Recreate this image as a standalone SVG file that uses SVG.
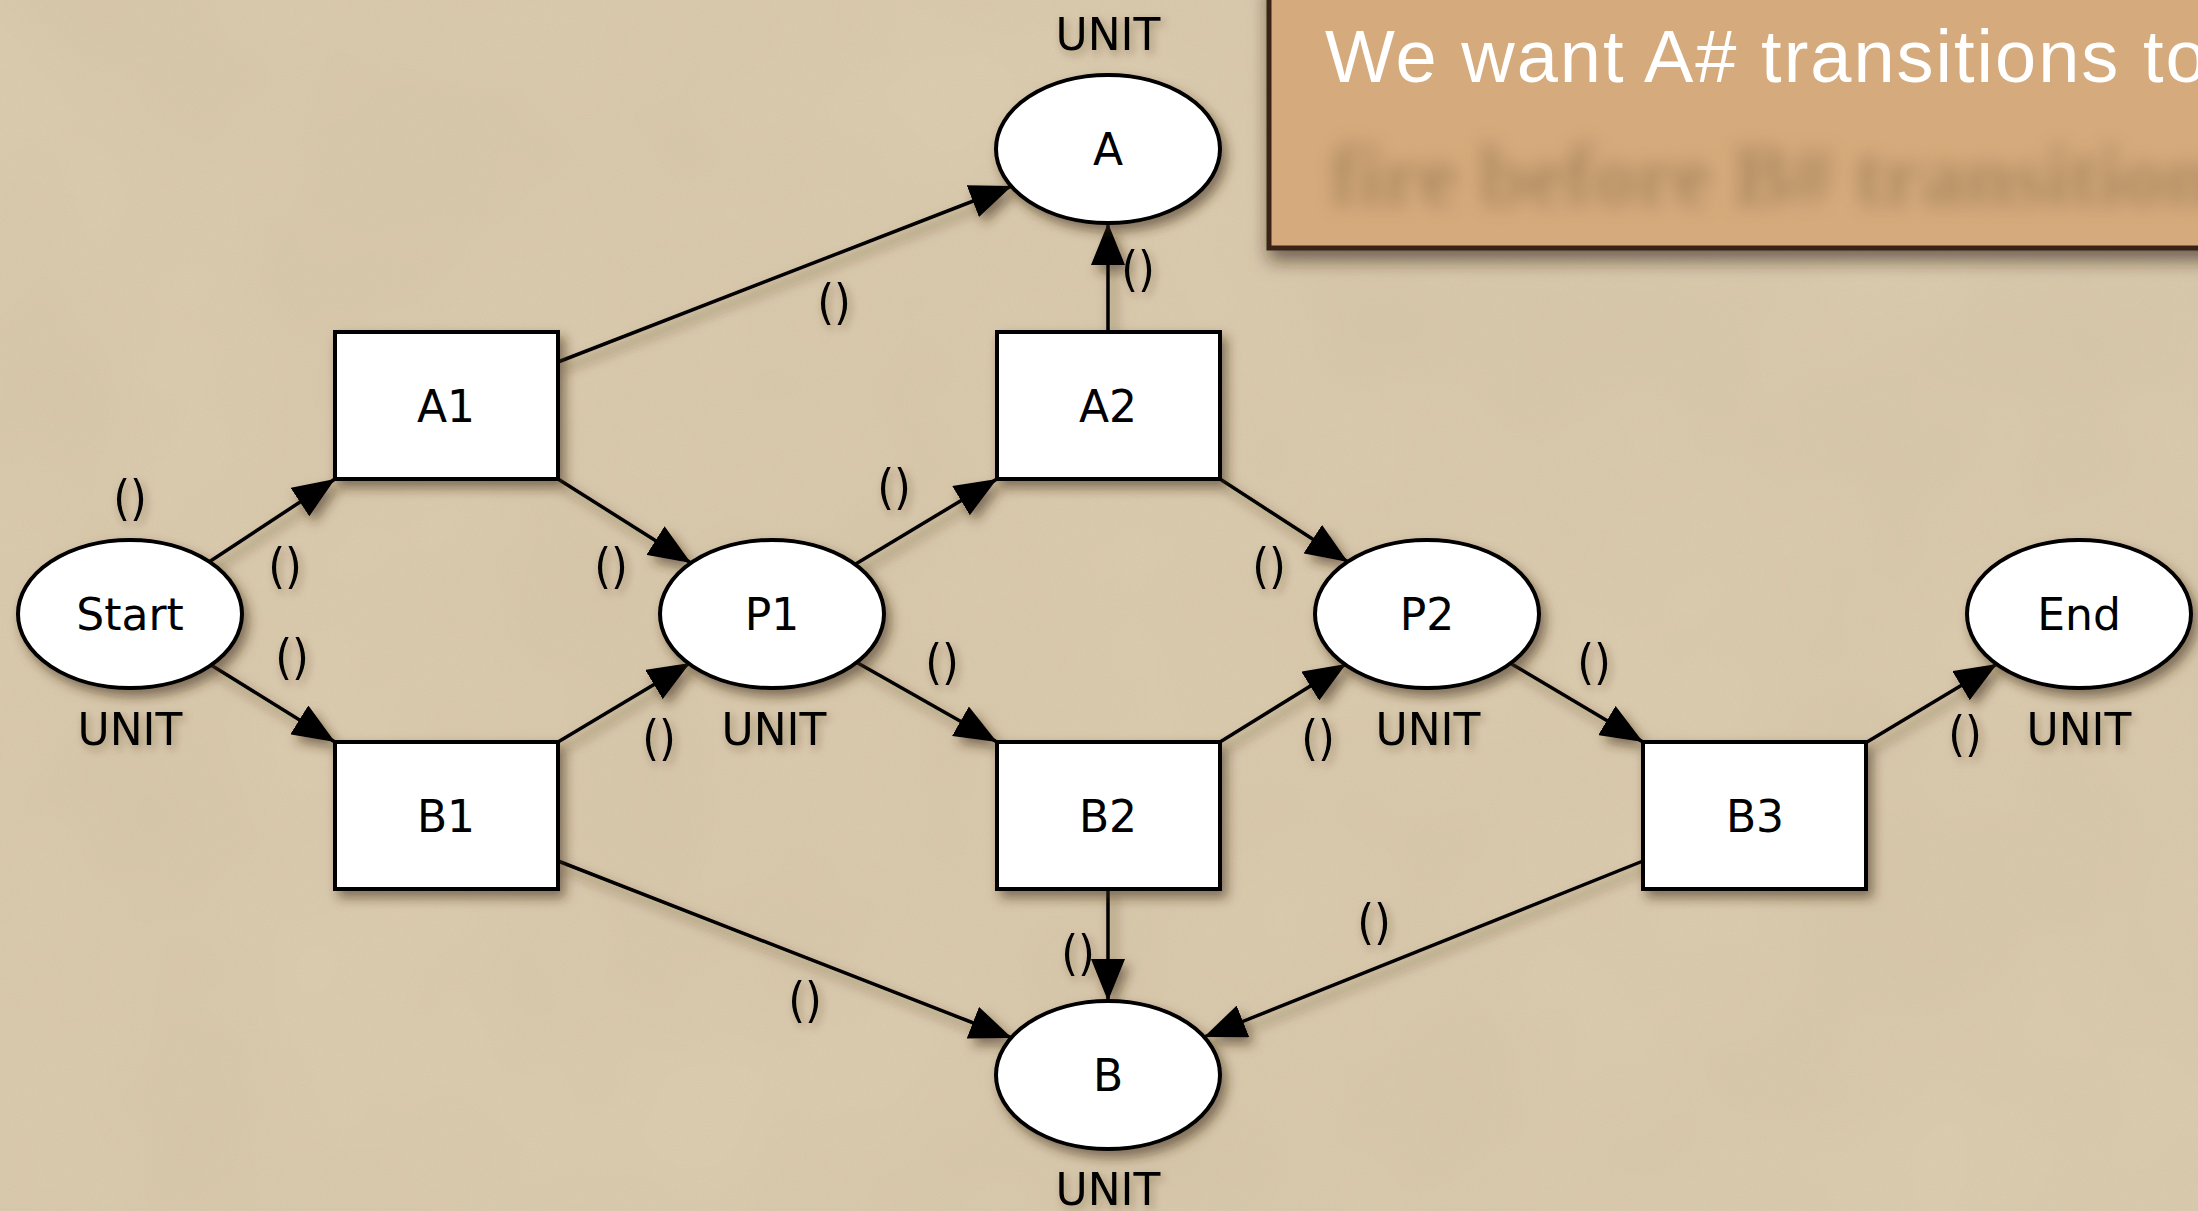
<svg xmlns="http://www.w3.org/2000/svg" width="2198" height="1211" viewBox="0 0 2198 1211">
<defs>
<style>
.place{fill:#fff;stroke:#000;stroke-width:4}
.trans{fill:#fff;stroke:#000;stroke-width:4}
.lbl{font-family:"DejaVu Sans",Verdana,sans-serif;font-size:44px;fill:#000;text-anchor:middle}
.par{font-family:"DejaVu Sans Condensed","DejaVu Sans",sans-serif;font-stretch:condensed;font-size:48px;fill:#000;text-anchor:middle}
.arc{fill:none;stroke:#000;stroke-width:3.5;marker-end:url(#ah)}
</style>
<marker id="ah" markerUnits="userSpaceOnUse" markerWidth="44" markerHeight="34" refX="42" refY="17" orient="auto">
<path d="M0,0 L42,17 L0,34 z" fill="#000"/>
</marker>
<filter id="sh" x="-20%" y="-20%" width="150%" height="150%">
<feDropShadow dx="5" dy="7" stdDeviation="6" flood-color="#3a2a10" flood-opacity="0.55"/>
</filter>
<filter id="tsh" x="-20%" y="-20%" width="150%" height="150%">
<feDropShadow dx="3" dy="4" stdDeviation="4" flood-color="#3a2a10" flood-opacity="0.35"/>
</filter>
<filter id="boxsh" x="-10%" y="-10%" width="130%" height="140%">
<feDropShadow dx="2" dy="10" stdDeviation="9" flood-color="#2a1a08" flood-opacity="0.6"/>
</filter>
<filter id="blur" x="-10%" y="-50%" width="120%" height="200%">
<feGaussianBlur stdDeviation="9"/>
</filter>
<filter id="noise" x="0" y="0" width="100%" height="100%">
<feTurbulence type="fractalNoise" baseFrequency="0.9" numOctaves="2" seed="3" result="n"/>
<feColorMatrix type="matrix" values="0 0 0 0 0.45  0 0 0 0 0.36  0 0 0 0 0.22  0 0 0 0.16 0"/>
</filter>
<filter id="blotch" x="0" y="0" width="100%" height="100%">
<feTurbulence type="fractalNoise" baseFrequency="0.004" numOctaves="3" seed="7"/>
<feColorMatrix type="matrix" values="0 0 0 0 0.55  0 0 0 0 0.45  0 0 0 0 0.3  0 0 0 0.3 -0.05"/>
</filter>
</defs>

<rect width="2198" height="1211" fill="#ddcdb1"/>
<rect width="2198" height="1211" filter="url(#blotch)"/>
<rect width="2198" height="1211" filter="url(#noise)"/>

<g id="note">
<rect x="1269" y="-20" width="1000" height="268" fill="#d5aa7c" stroke="#3b2216" stroke-width="5" filter="url(#boxsh)"/>
<text x="1325" y="82" font-family="'Liberation Sans',sans-serif" font-size="74" letter-spacing="2" fill="#fff">We want A# transitions to</text>
<text x="1330" y="205" font-family="'Liberation Serif',serif" font-size="86" font-weight="bold" fill="#9a7a52" opacity="0.7" filter="url(#blur)">fire before B# transitions</text>
</g>

<g id="connectors" filter="url(#sh)">
<path class="arc" d="M209,562 L335,479"/>
<path class="arc" d="M211,665 L335,742"/>
<path class="arc" d="M558,479 L691,563"/>
<path class="arc" d="M558,742 L690,663"/>
<path class="arc" d="M558,362 L1012,186"/>
<path class="arc" d="M854,565 L997,479"/>
<path class="arc" d="M856,662 L997,742"/>
<path class="arc" d="M1108,332 L1108,223"/>
<path class="arc" d="M1220,479 L1348,562"/>
<path class="arc" d="M1220,742 L1346,664"/>
<path class="arc" d="M1510,663 L1643,742"/>
<path class="arc" d="M1867,742 L1997,664"/>
<path class="arc" d="M558,861 L1012,1038"/>
<path class="arc" d="M1108,889 L1108,1001"/>
<path class="arc" d="M1643,861 L1204,1037"/>
</g>

<g id="node-A"><ellipse class="place" cx="1108" cy="149" rx="112" ry="74" filter="url(#sh)"/><text class="lbl" x="1108" y="165">A</text></g>
<g id="node-B"><ellipse class="place" cx="1108" cy="1075" rx="112" ry="74" filter="url(#sh)"/><text class="lbl" x="1108" y="1091">B</text></g>
<g id="node-Start"><ellipse class="place" cx="130" cy="614" rx="112" ry="74" filter="url(#sh)"/><text class="lbl" x="130" y="630">Start</text></g>
<g id="node-P1"><ellipse class="place" cx="772" cy="614" rx="112" ry="74" filter="url(#sh)"/><text class="lbl" x="772" y="630">P1</text></g>
<g id="node-P2"><ellipse class="place" cx="1427" cy="614" rx="112" ry="74" filter="url(#sh)"/><text class="lbl" x="1427" y="630">P2</text></g>
<g id="node-End"><ellipse class="place" cx="2079" cy="614" rx="112" ry="74" filter="url(#sh)"/><text class="lbl" x="2079" y="630">End</text></g>
<g id="node-A1"><rect class="trans" x="335" y="332" width="223" height="147" filter="url(#sh)"/><text class="lbl" x="446" y="422">A1</text></g>
<g id="node-B1"><rect class="trans" x="335" y="742" width="223" height="147" filter="url(#sh)"/><text class="lbl" x="446" y="832">B1</text></g>
<g id="node-A2"><rect class="trans" x="997" y="332" width="223" height="147" filter="url(#sh)"/><text class="lbl" x="1108" y="422">A2</text></g>
<g id="node-B2"><rect class="trans" x="997" y="742" width="223" height="147" filter="url(#sh)"/><text class="lbl" x="1108" y="832">B2</text></g>
<g id="node-B3"><rect class="trans" x="1643" y="742" width="223" height="147" filter="url(#sh)"/><text class="lbl" x="1755" y="832">B3</text></g>

<g id="labels" filter="url(#tsh)">
<text class="lbl" x="1108" y="50">UNIT</text>
<text class="lbl" x="130" y="745">UNIT</text>
<text class="lbl" x="774" y="745">UNIT</text>
<text class="lbl" x="1428" y="745">UNIT</text>
<text class="lbl" x="2079" y="745">UNIT</text>
<text class="lbl" x="1108" y="1205">UNIT</text>
<text class="par" x="834" y="319">()</text>
<text class="par" x="1138" y="286">()</text>
<text class="par" x="130" y="515">()</text>
<text class="par" x="285" y="583">()</text>
<text class="par" x="292" y="674">()</text>
<text class="par" x="611" y="583">()</text>
<text class="par" x="659" y="755">()</text>
<text class="par" x="894" y="504">()</text>
<text class="par" x="942" y="679">()</text>
<text class="par" x="1269" y="583">()</text>
<text class="par" x="1318" y="755">()</text>
<text class="par" x="1594" y="679">()</text>
<text class="par" x="1965" y="751">()</text>
<text class="par" x="805" y="1017">()</text>
<text class="par" x="1078" y="970">()</text>
<text class="par" x="1374" y="939">()</text>
</g>
</svg>
